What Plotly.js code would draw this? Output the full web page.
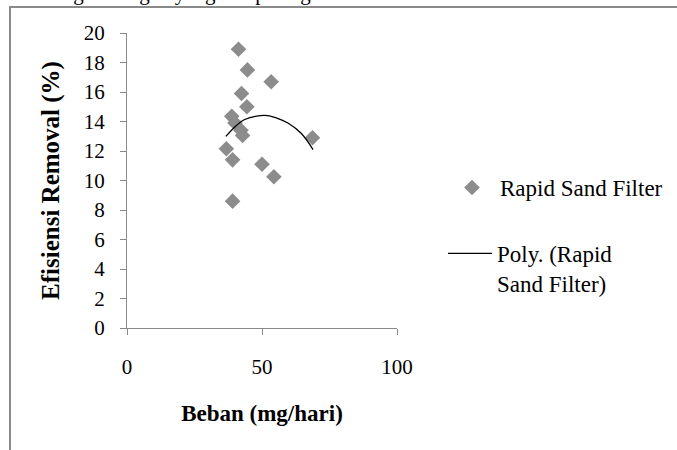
<!DOCTYPE html>
<html>
<head>
<meta charset="utf-8">
<script src="https://cdn.plot.ly/plotly-3.0.1.min.js"></script>
<style>
  html, body { margin: 0; padding: 0; background: #fff; }
  #wrap { position: relative; width: 677px; height: 450px; overflow: hidden; }
  #chart { position: absolute; left: 0; top: 0; width: 677px; height: 450px; }
  #frame { position: absolute; left: 9px; top: 6px; width: 700px; height: 460px;
           border-left: 2px solid #8a8a8a; border-top: 2px solid #8a8a8a; pointer-events: none; }
  #topline { position: absolute; left: -6px; top: -17px; font-family: "Times New Roman", serif;
             font-size: 21px; line-height: 21px; color: #000; white-space: nowrap; }
</style>
</head>
<body>
<div id="wrap">
  <div id="chart"></div>
  <div id="topline">berhubungan dengan yang ada pada gambar di bawah ini.</div>
  <div id="frame"></div>
</div>
<script>
// Data
var bebanX = [41.3, 44.6, 53.4, 42.4, 44.4, 38.8, 40.0, 42.2, 42.8, 68.7, 36.8, 39.1, 50.0, 54.4, 39.1];
var efisiensiY = [18.9, 17.5, 16.7, 15.9, 15.0, 14.35, 13.9, 13.4, 13.05, 12.9, 12.15, 11.4, 11.1, 10.25, 8.6];

// Polynomial trend line
var trendX = [36.6, 40.3, 43.4, 47.5, 52.0, 56.0, 59.6, 64.5, 68.9];
var trendY = [12.99, 13.7, 14.12, 14.35, 14.4, 14.2, 13.9, 13.2, 12.1];

var seriesName = "Rapid Sand Filter";
var trendName = "Poly. (Rapid<br>Sand Filter)";
var xTitle = "Beban (mg/hari)";
var yTitle = "Efisiensi Removal (%)";
var xTicks = [0, 50, 100];
var yTicks = [0, 2, 4, 6, 8, 10, 12, 14, 16, 18, 20];

var serif = "Times New Roman";

var traces = [
  {
    x: bebanX, y: efisiensiY, type: "scatter", mode: "markers", name: seriesName,
    marker: { symbol: "diamond", size: 12, color: "#8c8c8c", line: { width: 0 } },
    legend: "legend"
  },
  {
    x: trendX, y: trendY, type: "scatter", mode: "lines", name: trendName,
    line: { color: "#000000", width: 1.3, shape: "spline", smoothing: 1 },
    legend: "legend2"
  }
];

function axisBase() {
  return {
    showgrid: false, zeroline: false, showline: true,
    linecolor: "#8a8a8a", linewidth: 1,
    ticks: "outside", ticklen: 6, tickcolor: "#8a8a8a", tickwidth: 1,
    tickfont: { family: serif, size: 21, color: "#000" },
    fixedrange: true
  };
}

var xaxis = axisBase();
xaxis.range = [0, 100];
xaxis.tickmode = "array"; xaxis.tickvals = xTicks; xaxis.ticktext = xTicks.map(String);
xaxis.ticklabelstandoff = 14;
xaxis.title = { text: "<b>" + xTitle + "</b>", font: { family: serif, size: 23, color: "#000" }, standoff: 26 };

var yaxis = axisBase();
yaxis.range = [0, 20];
yaxis.tickmode = "array"; yaxis.tickvals = yTicks; yaxis.ticktext = yTicks.map(String);
yaxis.ticklabelstandoff = 11;
yaxis.title = { text: "<b>" + yTitle + "</b>", font: { family: serif, size: 25, color: "#000" }, standoff: 17 };

var layout = {
  width: 677, height: 450,
  font: { family: serif, size: 21, color: "#000" },
  margin: { l: 127, r: 280, t: 33, b: 122, pad: 0 },
  paper_bgcolor: "rgba(0,0,0,0)", plot_bgcolor: "rgba(0,0,0,0)",
  showlegend: true,
  xaxis: xaxis,
  yaxis: yaxis,
  legend: {
    x: 444 / 677, y: 1 - 166 / 450, xref: "container", yref: "container",
    xanchor: "left", yanchor: "top", itemwidth: 46,
    font: { family: serif, size: 23, color: "#000" },
    bgcolor: "rgba(0,0,0,0)", borderwidth: 0
  },
  legend2: {
    x: 443 / 677, y: 1 - 232 / 450, xref: "container", yref: "container",
    xanchor: "left", yanchor: "top", itemwidth: 44,
    font: { family: serif, size: 23, color: "#000" },
    bgcolor: "rgba(0,0,0,0)", borderwidth: 0, valign: "top"
  }
};

Plotly.newPlot("chart", traces, layout, { staticPlot: true, displayModeBar: false });
</script>
</body>
</html>
